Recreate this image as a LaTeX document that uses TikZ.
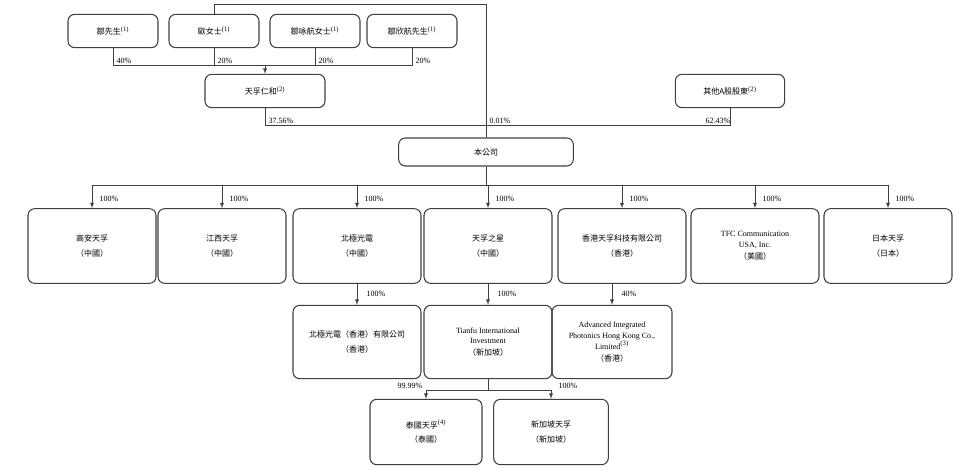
\documentclass[tikz,border=0pt]{standalone}
\usepackage{fontspec}
\setmainfont{Liberation Serif}
\newfontfamily\cjk{Noto Sans CJK TC}
\usetikzlibrary{calc}
\newcommand{\zh}[1]{{\cjk #1}}
\newcommand{\fn}[1]{\textsuperscript{\tiny(#1)}}
\tikzset{
	box/.style={draw, rounded corners=5pt, thick, draw=black!75, align=center, font=\fontsize{6}{8}\selectfont, inner sep=2pt},
	owner/.style={box, minimum width=67.5pt, minimum height=25pt},
	sub/.style={box, minimum width=96pt, minimum height=56pt},
	pct/.style={font=\fontsize{6}{7}\selectfont, anchor=south west, inner sep=1pt},
	link/.style={draw=black!75, thin},
	arr/.style={link, -latex}
}
\begin{document}
\begin{tikzpicture}[x=0.75pt,y=-0.75pt]
	\useasboundingbox (0,0) rectangle (960,470);
	% shareholders
	\node[owner] (zou) at (113,31) {\zh{鄒先生}\fn{1}};
	\node[owner] (ou) at (214,31) {\zh{歐女士}\fn{1}};
	\node[owner] (zouyh) at (315,31) {\zh{鄒咏航女士}\fn{1}};
	\node[owner] (zouxh) at (412,31) {\zh{鄒欣航先生}\fn{1}};
	\node[owner, minimum width=90pt] (renhe) at (265,91) {\zh{天孚仁和}\fn{2}};
	\node[owner, minimum width=82pt] (others) at (730,91) {\zh{其他A股股東}\fn{2}};
	\node[box, minimum width=131pt, minimum height=21pt] (company) at (486,152) {\zh{本公司}};
	% first level subsidiaries
	\node[sub] (gaoan) at (92,246) {\zh{高安天孚}\\[3pt]\textit{\zh{（中國）}}};
	\node[sub] (jiangxi) at (222,246) {\zh{江西天孚}\\[3pt]\textit{\zh{（中國）}}};
	\node[sub] (beiji) at (357,246) {\zh{北極光電}\\[3pt]\textit{\zh{（中國）}}};
	\node[sub] (star) at (488,246) {\zh{天孚之星}\\[3pt]\textit{\zh{（中國）}}};
	\node[sub] (hk) at (622,246) {\zh{香港天孚科技有限公司}\\[3pt]\textit{\zh{（香港）}}};
	\node[sub] (tfc) at (755,246) {TFC Communication\\USA, Inc.\\[1pt]\textit{\zh{（美國）}}};
	\node[sub] (japan) at (888,246) {\zh{日本天孚}\\[3pt]\textit{\zh{（日本）}}};
	% second level
	\node[sub, minimum height=55pt] (beijihk) at (357,342) {\zh{北極光電（香港）有限公司}\\[3pt]\textit{\zh{（香港）}}};
	\node[sub, minimum height=55pt] (tianfu) at (488,342) {Tianfu International\\Investment\\[1pt]\textit{\zh{（新加坡）}}};
	\node[sub, minimum height=55pt, minimum width=90pt] (aip) at (612,342) {Advanced Integrated\\Photonics Hong Kong Co.,\\Limited\fn{3}\\[1pt]\textit{\zh{（香港）}}};
	% third level
	\node[sub, minimum width=84pt, minimum height=49pt] (thai) at (426,432) {\zh{泰國天孚}\fn{4}\\[3pt]\textit{\zh{（泰國）}}};
	\node[sub, minimum width=86pt, minimum height=49pt] (sg) at (551,432) {\zh{新加坡天孚}\\[3pt]\textit{\zh{（新加坡）}}};
	
	% owners of renhe
	\coordinate (bus1) at (0,65);
	\draw[link] (zou.south) |- (zouxh.south |- bus1) -- (zouxh.south);
	\draw[link] (ou.south) -- (ou.south |- bus1);
	\draw[link] (zouyh.south) -- (zouyh.south |- bus1);
	\draw[arr] (renhe.north |- bus1) -- (renhe.north);
	\node[pct] at ($(zou.south)+(2,17)$) {40\%};
	\node[pct] at ($(ou.south)+(2,17)$) {20\%};
	\node[pct] at ($(zouyh.south)+(2,17)$) {20\%};
	\node[pct] at ($(zouxh.south)+(2,17)$) {20\%};
	% owners of company
	\coordinate (top) at (486,4);
	\coordinate (bus2) at (0,125);
	\draw[link] (ou.north) |- (top) -- (company.north);
	\draw[link] (renhe.south) |- (others.south |- bus2) -- (others.south);
	\node[pct] at ($(renhe.south |- bus2)+(2,0)$) {37.56\%};
	\node[pct] at ($(company.north |- bus2)+(2,0)$) {0.01\%};
	\node[pct] at ($(others.south |- bus2)+(-26,0)$) {62.43\%};
	% company subsidiaries
	\coordinate (bus3) at (0,185);
	\draw[link] (company.south) -- (company.south |- bus3);
	\draw[link] (gaoan.north |- bus3) -- (japan.north |- bus3);
	\foreach \s in {gaoan,jiangxi,beiji,star,hk,tfc,japan} {
		\draw[arr] (\s.north |- bus3) -- (\s.north);
		\node[pct] at ($(\s.north)+(6,-5)$) {100\%};
	}
	% second level links
	\draw[arr] (beiji) -- (beijihk) node[pct, pos=.5, anchor=west, xshift=6pt] {100\%};
	\draw[arr] (star) -- (tianfu) node[pct, pos=.5, anchor=west, xshift=6pt] {100\%};
	\draw[arr] (hk.south -| aip.north) -- (aip.north) node[pct, pos=.5, anchor=west, xshift=6pt] {40\%};
	% third level links
	\coordinate (bus4) at (0,390);
	\draw[link] (tianfu.south) -- (tianfu.south |- bus4);
	\draw[arr] (tianfu.south |- bus4) -| (thai.north);
	\draw[arr] (tianfu.south |- bus4) -| (sg.north);
	\node[pct, anchor=south east] at ($(thai.north |- bus4)+(-2,0)$) {99.99\%};
	\node[pct] at ($(sg.north |- bus4)+(6,0)$) {100\%};
\end{tikzpicture}
\end{document}
